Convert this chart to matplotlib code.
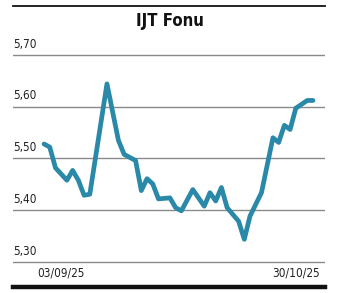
import matplotlib.pyplot as plt
from matplotlib.lines import Line2D
import matplotlib.transforms as mtransforms

# Fund price (day index = trading day from start)
days = [0, 1, 2, 4, 5, 6, 7, 8, 11, 13, 14, 16, 17, 18, 19, 20, 22, 23, 24,
        26, 28, 29, 30, 31, 32, 34, 35, 36, 38, 40, 41, 42, 43, 44, 46, 47]
prices = [5.528, 5.522, 5.482, 5.458, 5.477, 5.458, 5.429, 5.431, 5.644,
          5.535, 5.508, 5.496, 5.438, 5.461, 5.451, 5.422, 5.424, 5.405,
          5.399, 5.440, 5.408, 5.434, 5.418, 5.444, 5.405, 5.379, 5.344,
          5.389, 5.434, 5.540, 5.531, 5.564, 5.556, 5.597, 5.612, 5.612]

y_ticks = [5.30, 5.40, 5.50, 5.60, 5.70]
y_labels = ['5,30', '5,40', '5,50', '5,60', '5,70']
date_pos = [3, 44]
date_labels = ['03/09/25', '30/10/25']

title = 'IJT Fonu'
line_color = '#2a88a8'

W, H = 338, 293
fig = plt.figure(figsize=(W / 100, H / 100), dpi=100)
ax = fig.add_axes([13 / W, 1 - 287 / H, 312 / W, (287 - 45) / H])

ax.plot(days, prices, color=line_color, linewidth=3.4,
        solid_capstyle='round', solid_joinstyle='round', zorder=3)

ax.set_xlim(-5.42, 49.1)
ax.set_ylim(5.252, 5.719)

# grid lines
for v in y_ticks:
    ax.axhline(v, color='#8a8a8a', linewidth=1.0, zorder=1)

fp = dict(family='DejaVu Sans', fontstretch='condensed')

# y labels sit above the grid lines, left aligned
trans = mtransforms.blended_transform_factory(ax.transAxes, ax.transData)
for v, lab in zip(y_ticks, y_labels):
    ax.annotate(lab, xy=(0, v), xycoords=trans, xytext=(0, 3),
                textcoords='offset points', ha='left', va='bottom',
                fontsize=8.5, color='#222222', **fp)

# date labels
trans2 = mtransforms.blended_transform_factory(ax.transData, ax.transAxes)
for d, lab in zip(date_pos, date_labels):
    ax.text(d, 0.058, lab, transform=trans2, ha='center', va='center',
            fontsize=8.5, color='#222222', **fp)

ax.set_xticks([])
ax.set_yticks([])
for s in ['top', 'left', 'right']:
    ax.spines[s].set_visible(False)
ax.spines['bottom'].set_linewidth(3.2)
ax.spines['bottom'].set_color('#111111')

# top rule and title
fig.add_artist(Line2D([13 / W, 325 / W], [1 - 6 / H, 1 - 6 / H],
                      color='#111111', linewidth=1.3))
fig.text(170 / W, 1 - 21 / H, title, ha='center', va='center',
         fontsize=12, fontweight='bold', color='#111111', **fp)

plt.savefig('out.png', dpi=100)
